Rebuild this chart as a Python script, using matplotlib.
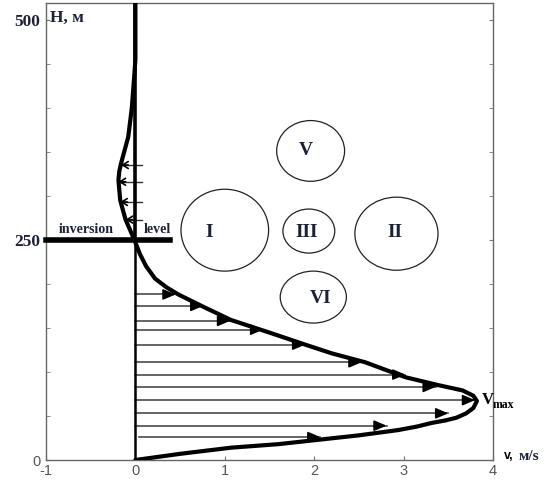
import numpy as np
import matplotlib.pyplot as plt
from matplotlib.patches import Ellipse

plt.rcParams['figure.dpi'] = 100
plt.rcParams['savefig.dpi'] = 100

# Профиль скорости (v, H)
curve_v = [0, 0.50, 1.07, 1.60, 2.05, 2.50, 2.94, 3.15, 3.31, 3.47, 3.59, 3.70, 3.78,
           3.82, 3.78, 3.66, 3.39, 3.02, 2.57, 2.20, 1.90, 1.52, 1.07, 0.78, 0.48,
           0.35, 0.22, 0.12, 0.05, 0, -0.05, -0.11, -0.17, -0.19, -0.18, -0.16, -0.12,
           -0.08, -0.04, -0.01, 0, 0]
curve_h = [0, 7, 14, 18, 23, 28, 34, 38, 42, 45, 48, 53, 59,
           67, 73, 79, 85, 94, 111, 121, 131, 144, 159, 173, 188,
           196, 206, 220, 234, 247, 259, 273, 295, 318, 328, 337, 352,
           367, 400, 440, 455, 519]

# Штриховка с векторами скорости
hatch_h = [188, 175, 158, 148, 131, 111, 97, 83, 68, 53, 39, 26]
hatch_end = [0.45, 0.76, 1.06, 1.43, 1.90, 2.53, 3.02, 3.36, 3.80, 3.50, 2.81, 2.07]
hatch_start = [0, 0, 0, 0, 0, 0, 0, 0, 0, 0, 0, 0.04]

# Обратный поток выше инверсии
neg_h = [335, 316, 293, 273]
neg_end = [-0.16, -0.19, -0.17, -0.11]
neg_start = 0.07

# Зоны
zone_names = ['V', 'I', 'III', 'II', 'VI']
zone_x = [1.96, 1.00, 1.94, 2.92, 1.99]
zone_h = [351, 261, 260, 257, 185]
zone_w = [0.76, 0.98, 0.58, 0.93, 0.74]
zone_hh = [69, 93, 50, 83, 59]
zone_tx = [1.91, 0.82, 1.91, 2.90, 2.07]
zone_th = [352, 258, 258, 258, 183]

xticks = [-1, 0, 1, 2, 3, 4]
yticks = [0, 250, 500]

navy = '#1b2238'
gray = '#555555'

fig = plt.figure(figsize=(5.52, 4.86))
ax = fig.add_axes([46 / 552, 26 / 486, 447 / 552, 457 / 486])
ax.set_xlim(-1, 4)
ax.set_ylim(0, 519)

for s in ax.spines.values():
    s.set_color('#666666')
    s.set_linewidth(1.0)

ax.set_xticks(xticks)
ax.set_xticklabels([str(t) for t in xticks], color=gray, fontsize=10.5,
                   family='Liberation Sans')
ax.set_yticks(yticks)
ax.set_yticks([50, 100, 150, 200, 300, 350, 400, 450], minor=True)
ax.tick_params(axis='both', which='both', direction='in', length=3, color='#777777',
               right=True)
ax.tick_params(axis='x', pad=3)
ax.tick_params(axis='y', pad=4)
ax.set_yticklabels(['0', '250', '500'])
for lab in ax.get_yticklabels():
    if lab.get_text() == '0':
        lab.set_color(gray)
        lab.set_fontsize(10.5)
        lab.set_family('Liberation Sans')
    else:
        lab.set_color(navy)
        lab.set_fontsize(12.5)
        lab.set_family('Liberation Serif')
        lab.set_fontweight('bold')

# штриховые линии
for h, x0, x1 in zip(hatch_h, hatch_start, hatch_end):
    ax.plot([x0, x1], [h, h], color='#4a4a4a', lw=1.2, zorder=2)
    ax.annotate('', xy=(x1, h), xytext=(x1 - 0.12, h),
                arrowprops=dict(arrowstyle='-|>,head_length=0.75,head_width=0.32',
                                color='black', lw=1.2, shrinkA=0, shrinkB=0),
                zorder=4)

for h, x1 in zip(neg_h, neg_end):
    ax.plot([neg_start, x1], [h, h], color='#333333', lw=1.0, zorder=2)
    ax.annotate('', xy=(x1, h), xytext=(x1 + 0.08, h),
                arrowprops=dict(arrowstyle='->,head_length=0.4,head_width=0.25',
                                color='black', lw=1.2, shrinkA=0, shrinkB=0),
                zorder=4)

# ось x = 0 и профиль
ax.plot([0, 0], [0, 250], color='black', lw=1.8, zorder=3)
ax.plot([0, 0], [250, 519], color='black', lw=2.6, zorder=3)
ax.plot(curve_v, curve_h, color='black', lw=3, zorder=3, solid_capstyle='round',
        solid_joinstyle='round')

# уровень инверсии
ax.plot([-1, 0.39], [250, 250], color='black', lw=4, zorder=3, clip_on=False)
ax.text(-0.55, 262, 'inversion', ha='center', va='center', fontsize=10,
        family='Liberation Serif', fontweight='bold', color=navy)
ax.text(0.25, 262, 'level', ha='center', va='center', fontsize=10,
        family='Liberation Serif', fontweight='bold', color=navy)

# зоны
for n, cx, cy, w, hh, tx, th in zip(zone_names, zone_x, zone_h, zone_w, zone_hh,
                                    zone_tx, zone_th):
    ax.add_patch(Ellipse((cx, cy), w, hh, fill=False, ec='#222222', lw=0.9))
    ax.text(tx, th, n, ha='center', va='center', fontsize=14,
            family='Liberation Serif', fontweight='bold', color=navy)

# подписи
ax.text(-0.96, 502, 'H, м', ha='left', va='center', fontsize=12.5,
        family='Liberation Serif', fontweight='bold', color=navy)
ax.text(3.87, 68, 'V', ha='left', va='center', fontsize=12,
        family='Liberation Serif', fontweight='bold', color='black', clip_on=False)
ax.text(4.00, 63, 'max', ha='left', va='center', fontsize=8.5,
        family='Liberation Serif', fontweight='bold', color='black', clip_on=False)
ax.text(4.12, 4, 'v,', ha='left', va='center', fontsize=9,
        family='Liberation Sans', fontweight='bold', color='black', clip_on=False)
ax.text(4.29, 4, 'м/s', ha='left', va='center', fontsize=11,
        family='Liberation Serif', fontweight='bold', color=navy, clip_on=False)

fig.savefig('out.png')
